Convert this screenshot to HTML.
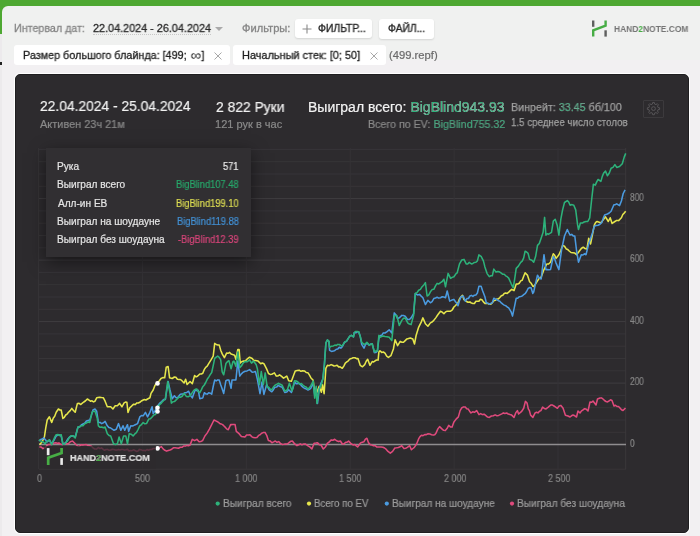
<!DOCTYPE html>
<html><head><meta charset="utf-8">
<style>
*{margin:0;padding:0;box-sizing:border-box}
html,body{width:700px;height:536px;overflow:hidden;background:#4ea832;font-family:"Liberation Sans",sans-serif}
#page{position:absolute;left:2px;top:6px;width:704px;height:540px;background:linear-gradient(#f0f1f0 0,#f0f1f0 54px,#f2f0f2 54px);border-radius:6px 6px 0 0}
#lstrip{position:absolute;left:0;top:34px;width:2px;height:502px;background:#eceaec}
.t{position:absolute;white-space:nowrap;line-height:normal;transform-origin:0 0;-webkit-font-smoothing:antialiased;will-change:transform}
.btn{position:absolute;background:#fff;border-radius:3px;box-shadow:0 1px 2px rgba(0,0,0,.12)}
.chip{position:absolute;background:#fff;border-radius:3px}
#panel{position:absolute;left:14.5px;top:74.3px;width:674px;height:459px;background:#2d2b2e;border:1px solid #1f1e20;border-radius:5px;box-shadow:0 0 0 1px #fff}
</style></head><body>
<div id="page"></div>
<div id="lstrip"></div>
<div style="position:absolute;left:0;top:62px;width:2px;height:3px;background:#222"></div>

<div style="position:absolute;left:93px;top:34px;width:118px;border-top:1px dotted #c8c8c8"></div>
<div style="position:absolute;left:215px;top:27px;width:0;height:0;border-left:4px solid transparent;border-right:4px solid transparent;border-top:4px solid #aaa"></div>
<div class="btn" style="left:295px;top:19px;width:77px;height:19px"></div>
<svg style="position:absolute;left:302px;top:24px" width="10" height="10"><path d="M5 0.5V9.5M0.5 5H9.5" stroke="#8a8a8a" stroke-width="1.1"/></svg>
<div class="btn" style="left:379px;top:19px;width:55px;height:20px"></div>

<div class="chip" style="left:14px;top:45px;width:216px;height:20px"></div>
<svg style="position:absolute;left:214px;top:52px" width="8" height="8"><path d="M0.5 0.5L7.5 7.5M7.5 0.5L0.5 7.5" stroke="#a8a8a8" stroke-width="1"/></svg>
<div class="chip" style="left:233px;top:45px;width:153px;height:20px"></div>
<svg style="position:absolute;left:369.5px;top:52px" width="8" height="8"><path d="M0.5 0.5L7.5 7.5M7.5 0.5L0.5 7.5" stroke="#a8a8a8" stroke-width="1"/></svg>

<svg style="position:absolute;left:0;top:0" width="700" height="80">
<rect x="592" y="20.5" width="2.4" height="6.3" fill="#5f5f5f"/>
<rect x="604.4" y="30.3" width="2.4" height="6.3" fill="#5f5f5f"/>
<path d="M593.2 36.6V30.3L605.6 25.7V20.5" stroke="#47ad45" stroke-width="2.4" fill="none" stroke-linejoin="miter"/>
</svg>

<div id="panel"></div>
<div style="position:absolute;left:643.3px;top:99.6px;width:20.3px;height:18.8px;border:1px solid #3c3a3d;border-radius:1px"></div>
<svg style="position:absolute;left:0;top:0" width="700" height="130"><path d="M658.09 107.57 L659.64 107.77 L659.64 109.43 L658.09 109.63 L657.47 111.12 L658.43 112.36 L657.26 113.53 L656.02 112.57 L654.53 113.19 L654.33 114.74 L652.67 114.74 L652.47 113.19 L650.98 112.57 L649.74 113.53 L648.57 112.36 L649.53 111.12 L648.91 109.63 L647.36 109.43 L647.36 107.77 L648.91 107.57 L649.53 106.08 L648.57 104.84 L649.74 103.67 L650.98 104.63 L652.47 104.01 L652.67 102.46 L654.33 102.46 L654.53 104.01 L656.02 104.63 L657.26 103.67 L658.43 104.84 L657.47 106.08Z" fill="none" stroke="#575558" stroke-width="1"/><circle cx="653.5" cy="108.6" r="1.9" fill="none" stroke="#575558" stroke-width="1"/></svg>

<svg style="position:absolute;left:0;top:0" width="700" height="536">
<line x1="39" y1="469.2" x2="626" y2="469.2" stroke="#373538" stroke-width="1"/>
<line x1="39" y1="432.3" x2="626" y2="432.3" stroke="#373538" stroke-width="1"/>
<line x1="39" y1="420.0" x2="626" y2="420.0" stroke="#373538" stroke-width="1"/>
<line x1="39" y1="407.7" x2="626" y2="407.7" stroke="#373538" stroke-width="1"/>
<line x1="39" y1="395.4" x2="626" y2="395.4" stroke="#373538" stroke-width="1"/>
<line x1="39" y1="383.1" x2="626" y2="383.1" stroke="#3f3d40" stroke-width="1"/>
<line x1="39" y1="370.8" x2="626" y2="370.8" stroke="#373538" stroke-width="1"/>
<line x1="39" y1="358.5" x2="626" y2="358.5" stroke="#373538" stroke-width="1"/>
<line x1="39" y1="346.2" x2="626" y2="346.2" stroke="#373538" stroke-width="1"/>
<line x1="39" y1="333.9" x2="626" y2="333.9" stroke="#373538" stroke-width="1"/>
<line x1="39" y1="321.6" x2="626" y2="321.6" stroke="#3f3d40" stroke-width="1"/>
<line x1="39" y1="309.3" x2="626" y2="309.3" stroke="#373538" stroke-width="1"/>
<line x1="39" y1="297.0" x2="626" y2="297.0" stroke="#373538" stroke-width="1"/>
<line x1="39" y1="284.7" x2="626" y2="284.7" stroke="#373538" stroke-width="1"/>
<line x1="39" y1="272.4" x2="626" y2="272.4" stroke="#373538" stroke-width="1"/>
<line x1="39" y1="260.1" x2="626" y2="260.1" stroke="#3f3d40" stroke-width="1"/>
<line x1="39" y1="247.8" x2="626" y2="247.8" stroke="#373538" stroke-width="1"/>
<line x1="39" y1="235.5" x2="626" y2="235.5" stroke="#373538" stroke-width="1"/>
<line x1="39" y1="223.2" x2="626" y2="223.2" stroke="#373538" stroke-width="1"/>
<line x1="39" y1="210.9" x2="626" y2="210.9" stroke="#373538" stroke-width="1"/>
<line x1="39" y1="198.6" x2="626" y2="198.6" stroke="#3f3d40" stroke-width="1"/>
<line x1="39" y1="186.3" x2="626" y2="186.3" stroke="#373538" stroke-width="1"/>
<line x1="39" y1="174.0" x2="626" y2="174.0" stroke="#373538" stroke-width="1"/>
<line x1="39" y1="161.7" x2="626" y2="161.7" stroke="#373538" stroke-width="1"/>
<line x1="39" y1="149.4" x2="626" y2="149.4" stroke="#373538" stroke-width="1"/>
<line x1="38.5" y1="148" x2="38.5" y2="469" stroke="#353336" stroke-width="1"/>
<line x1="142.4" y1="148" x2="142.4" y2="469" stroke="#353336" stroke-width="1"/>
<line x1="246.3" y1="148" x2="246.3" y2="469" stroke="#353336" stroke-width="1"/>
<line x1="350.2" y1="148" x2="350.2" y2="469" stroke="#353336" stroke-width="1"/>
<line x1="454.1" y1="148" x2="454.1" y2="469" stroke="#353336" stroke-width="1"/>
<line x1="558.0" y1="148" x2="558.0" y2="469" stroke="#353336" stroke-width="1"/>
<line x1="625.7" y1="148" x2="625.7" y2="469" stroke="#3a383b" stroke-width="1"/>
<line x1="39" y1="444.6" x2="626" y2="444.6" stroke="#8f8d8f" stroke-width="1.5"/>
<g fill="none" stroke-width="1.55" stroke-linejoin="round">
<polyline points="39.4,446.9 41.1,447.0 42.9,448.6 44.4,448.1 45.9,446.8 47.4,445.1 49.1,444.4 50.9,444.6 52.6,443.7 54.3,442.9 55.8,442.8 57.4,443.2 58.9,442.9 60.6,444.3 62.3,444.6 63.8,443.6 65.4,443.3 66.9,444.0 68.6,443.5 70.3,441.7 72.6,441.1 74.3,442.7 76.0,444.6 77.7,446.0 79.4,446.3 81.2,444.7 82.9,445.1 84.6,444.7 86.3,444.6 88.0,445.6 89.7,445.7 91.4,446.3 93.1,448.0 94.8,449.0 96.5,449.1 98.3,447.5 100.0,448.6 101.5,447.9 103.0,449.2 104.5,450.3 106.1,449.5 107.6,449.4 109.1,450.3 110.7,450.1 112.2,449.3 113.8,449.6 115.3,450.0 116.9,450.1 118.4,449.5 120.0,450.0 121.5,449.5 123.0,449.5 124.5,450.1 126.0,449.8 127.5,449.3 129.0,451.0 130.5,450.5 132.0,450.7 133.5,449.8 135.0,450.5 136.5,451.4 138.0,451.0 139.5,449.4 141.0,449.8 142.5,450.4 144.0,450.3 145.5,450.7 147.0,449.5 148.5,450.3 150.0,449.5 151.7,449.5 153.3,448.5 155.0,448.6 157.6,448.4 159.5,447.7 161.4,446.6 163.1,448.9 164.9,450.3 166.6,451.1 168.3,450.5 170.0,450.0 171.7,449.2 173.4,447.8 175.1,447.8 176.8,447.9 178.5,448.3 180.3,447.3 182.0,447.3 183.7,446.0 185.4,446.1 187.1,445.4 188.6,445.7 190.0,445.1 192.3,439.4 194.6,440.6 196.9,439.4 199.1,441.7 200.8,441.5 202.6,440.6 204.9,436.0 207.1,433.1 209.4,429.1 211.7,424.6 214.0,420.0 216.3,421.1 218.0,422.0 219.7,423.4 221.1,423.9 222.6,424.6 224.0,426.0 225.4,427.4 226.9,429.1 228.3,429.7 230.6,424.6 232.1,424.6 233.6,424.4 235.1,424.6 236.3,431.4 239.1,433.7 241.4,436.6 243.2,436.8 244.9,437.1 246.6,435.1 248.3,434.9 250.0,434.8 251.7,436.6 253.4,437.6 255.1,437.7 256.9,437.5 258.6,435.4 260.1,434.7 261.6,433.3 263.1,432.6 265.0,432.4 266.7,435.3 268.4,440.4 270.1,440.9 271.9,442.7 273.6,441.9 275.3,441.0 277.0,442.3 278.7,441.6 280.4,443.5 282.1,444.4 283.9,444.2 285.6,443.9 287.3,444.0 289.0,442.7 290.7,441.3 292.4,441.0 294.7,443.9 297.0,445.6 298.7,444.8 300.4,443.9 301.9,444.8 303.5,444.1 305.0,443.9 306.7,444.9 308.4,446.1 310.1,447.1 311.9,449.0 314.1,443.3 315.9,443.1 317.6,442.7 319.3,444.8 321.0,445.0 323.3,449.0 325.6,446.7 327.3,443.4 329.0,442.1 331.3,439.9 333.0,440.2 334.7,439.3 337.0,441.0 338.7,441.6 340.4,441.0 342.3,444.0 344.0,443.9 345.7,442.3 347.1,442.2 348.6,441.1 351.4,444.0 353.1,444.9 354.9,444.6 356.3,445.8 357.7,446.9 359.1,445.0 360.6,442.9 362.3,442.2 364.0,441.7 365.4,439.1 366.9,438.3 368.6,442.9 370.3,444.7 372.0,445.1 373.5,445.8 375.1,445.7 376.6,446.9 378.1,446.9 379.6,446.9 381.1,446.9 382.9,447.2 384.6,448.0 386.3,449.4 388.0,451.4 390.3,453.1 392.6,451.4 394.9,448.0 396.6,447.8 398.3,447.4 400.0,446.8 401.7,445.7 404.0,448.6 405.7,448.2 407.4,447.4 409.7,445.7 411.4,449.7 412.9,448.5 414.3,447.4 416.6,444.0 418.9,438.3 420.0,436.6 421.5,435.2 423.0,435.7 424.7,434.6 426.4,434.6 428.1,433.7 429.9,434.0 431.6,434.7 433.3,435.1 434.7,434.7 436.1,432.9 437.9,428.9 439.6,426.6 441.9,428.9 443.6,430.3 445.3,430.6 447.0,428.6 448.7,425.4 450.4,426.9 452.1,427.1 453.9,422.0 456.1,419.1 458.4,416.9 460.1,410.6 461.9,407.7 463.6,406.9 465.3,407.1 466.7,408.7 468.1,408.9 469.6,411.2 471.0,412.9 472.7,411.8 474.4,412.3 476.7,410.6 479.0,414.6 480.7,413.6 482.4,414.6 484.1,414.2 485.9,415.7 487.6,417.1 489.3,417.4 491.4,416.0 493.4,415.7 495.1,414.9 496.9,415.7 498.6,415.4 500.3,414.6 501.8,413.9 503.4,412.9 504.9,413.4 506.6,413.0 508.3,414.0 510.0,414.6 511.7,415.1 514.0,417.4 515.7,412.9 517.4,410.6 518.6,414.0 521.4,411.7 523.7,408.3 525.4,401.4 527.1,403.1 528.3,408.9 529.4,410.6 530.6,415.1 532.9,417.4 535.1,412.9 536.5,412.2 538.0,412.9 539.5,411.3 540.9,410.6 542.6,407.1 544.3,408.4 546.0,408.9 548.3,407.1 549.7,405.9 551.1,404.9 552.5,405.1 554.0,406.0 555.7,407.1 557.4,408.3 559.1,405.9 560.9,405.4 563.1,408.3 565.4,415.2 568.0,416.0 570.0,417.0 571.5,415.8 573.0,415.0 574.8,415.8 576.5,417.0 578.0,411.0 580.0,413.0 581.5,410.9 583.0,410.0 584.5,408.7 586.0,409.0 588.0,411.0 590.0,402.0 591.5,402.3 593.0,401.0 594.5,403.0 596.0,405.0 597.5,399.0 600.0,398.0 601.5,397.9 603.0,399.0 604.5,400.5 606.0,401.5 607.5,401.9 609.0,401.0 610.5,399.8 612.0,400.5 614.0,406.0 615.5,405.3 617.0,406.5 618.5,406.5 620.0,408.0 621.5,409.7 623.0,410.5 625.5,408.0" stroke="#df4a7c"/>
<polyline points="39.5,444.6 41.1,443.0 42.8,440.4 44.4,437.0 45.8,427.6 47.2,420.0 49.4,416.8 51.7,422.4 53.2,418.2 54.7,416.3 56.2,412.3 58.4,409.0 59.8,410.0 61.2,410.0 62.9,418.5 64.3,417.3 65.7,415.0 67.1,414.1 68.5,412.3 70.2,410.6 71.8,408.4 73.5,410.5 75.2,412.3 77.4,403.4 79.1,403.3 80.8,404.5 82.3,403.2 83.8,402.0 85.3,401.0 87.3,399.0 88.9,400.0 90.4,401.2 92.0,400.8 93.5,401.9 95.0,401.2 96.7,397.8 99.5,397.3 101.5,397.6 103.4,397.8 105.1,401.2 107.3,406.8 109.0,406.7 110.7,406.8 112.9,409.0 115.2,405.7 117.4,405.7 119.6,403.4 121.9,406.8 124.1,402.9 125.5,402.1 126.9,402.3 128.0,412.4 129.7,407.9 132.0,405.7 133.7,404.2 135.3,404.6 136.8,402.9 138.3,403.0 139.8,402.3 141.3,401.0 142.8,400.2 144.3,399.5 145.9,400.0 147.6,399.0 149.9,397.8 151.0,393.4 153.2,390.0 155.0,385.2 156.5,383.8 158.0,382.2 159.5,380.5 161.0,378.5 162.8,377.6 164.7,377.8 166.2,367.3 168.1,366.6 169.6,377.8 172.2,378.5 174.4,377.0 175.9,377.2 177.4,379.3 178.9,379.4 180.4,379.5 181.9,380.7 184.1,383.0 185.6,379.3 187.1,384.5 188.6,383.0 190.1,381.5 192.3,383.7 194.6,375.5 196.1,376.9 197.5,376.3 199.8,374.0 201.3,374.0 202.8,373.3 204.2,369.7 205.7,367.3 207.2,366.2 208.7,363.6 211.0,359.9 213.2,356.1 214.7,343.4 216.2,344.5 217.7,344.9 219.2,344.9 220.7,350.2 222.2,353.9 224.4,357.6 226.6,353.1 228.1,353.3 229.6,352.4 231.1,354.1 232.6,354.6 234.6,355.2 235.9,359.2 237.8,349.4 239.1,349.4 240.2,363.1 241.6,361.8 243.1,361.1 245.1,361.1 247.0,359.2 249.6,357.2 252.2,358.5 253.8,360.4 255.5,360.5 258.1,361.1 260.7,363.7 262.3,363.0 263.9,363.7 266.6,368.9 268.5,373.5 270.1,374.4 271.8,374.2 274.4,372.9 276.3,376.1 278.0,375.9 279.6,374.8 281.6,376.4 283.5,378.1 285.1,377.2 286.8,376.1 288.7,380.7 291.4,381.3 294.0,374.2 295.3,370.9 297.2,370.5 299.2,370.2 300.9,371.3 302.7,370.7 304.4,370.9 306.2,372.5 308.0,372.8 309.5,375.1 311.0,378.0 313.2,380.2 314.0,387.7 315.4,390.7 316.9,392.2 319.2,386.2 321.4,392.2 322.6,384.7 324.1,393.7 325.9,368.3 327.4,365.3 329.2,365.7 331.1,364.6 332.6,365.2 334.1,366.0 335.6,365.8 337.1,365.3 338.6,366.9 340.1,366.8 342.3,368.3 343.8,366.1 345.3,363.1 346.8,361.9 348.3,360.8 349.8,359.1 351.3,358.6 353.1,357.8 355.0,357.8 356.5,358.6 358.0,358.6 360.2,365.3 362.5,366.8 364.7,364.6 366.2,361.3 367.7,359.3 369.9,365.3 372.2,361.6 373.6,362.0 375.1,360.8 376.6,360.0 378.1,360.1 378.9,351.9 380.0,350.7 381.7,352.4 383.3,352.0 385.0,353.2 386.7,356.2 388.4,357.4 390.9,355.7 393.4,349.0 395.1,339.7 397.6,345.6 400.2,341.4 401.9,342.3 403.5,342.3 405.2,340.6 406.9,338.9 408.6,338.5 410.3,338.1 412.8,338.9 414.5,344.0 416.1,335.5 418.7,327.1 421.2,322.1 422.9,317.9 425.4,323.8 427.9,326.3 430.4,322.9 432.1,322.0 433.8,320.4 435.9,317.6 438.0,314.5 440.5,311.2 442.2,312.1 443.9,313.7 445.5,311.9 447.2,311.2 448.9,311.2 450.6,311.2 452.2,310.0 453.9,307.0 455.6,305.5 457.3,303.6 458.0,302.7 459.5,298.9 461.0,296.7 462.5,295.2 464.0,299.7 466.2,301.2 468.0,302.2 469.9,301.9 471.4,303.1 472.9,303.4 474.4,303.5 475.9,301.3 477.4,301.2 478.9,301.2 480.4,299.3 481.9,299.7 483.4,301.9 484.9,303.4 486.4,303.2 487.8,303.4 489.3,304.2 490.8,304.2 492.3,302.7 493.8,300.7 495.3,300.3 496.8,299.0 498.3,299.0 499.8,297.5 501.3,295.8 502.8,295.2 504.2,293.5 505.7,293.0 507.2,293.4 508.7,292.2 510.2,290.6 511.7,289.3 514.0,290.7 516.2,284.0 517.7,284.1 519.2,283.3 520.7,280.9 522.2,280.3 523.7,276.3 525.1,272.8 527.4,275.1 529.6,281.8 531.2,283.3 532.8,286.2 533.7,286.4 535.6,283.9 537.5,280.8 539.4,278.1 541.2,277.1 544.0,269.6 546.8,264.0 548.6,264.0 550.5,262.2 553.3,253.8 554.7,255.2 556.1,258.4 558.9,254.7 560.8,250.5 562.6,245.4 564.5,246.3 566.4,249.1 567.8,249.6 569.2,251.0 571.0,252.5 572.9,252.8 574.8,253.1 576.6,254.7 579.4,251.0 581.3,248.5 583.2,247.2 585.0,248.5 586.9,249.1 588.7,238.3 590.6,243.9 592.5,234.3 594.3,225.2 595.7,222.4 597.1,221.5 599.9,222.4 601.3,222.5 602.7,220.6 605.5,216.8 608.3,221.5 610.2,217.8 612.1,223.4 614.9,221.5 616.8,220.4 618.6,220.6 621.4,217.8 622.8,214.5 624.2,213.1 625.7,211.2" stroke="#e6e64c"/>
<polyline points="39.0,441.0 40.6,439.5 42.2,439.1 43.8,438.0 45.4,439.7 47.0,442.0 49.4,440.0 51.7,444.0 53.2,441.5 54.7,438.9 56.2,436.0 57.9,435.1 59.5,435.0 61.2,436.0 62.9,444.0 64.5,443.7 66.2,442.0 67.9,439.0 69.6,437.0 71.3,436.0 73.0,436.0 75.2,437.0 78.0,427.0 79.7,427.0 81.3,424.9 83.0,424.0 84.7,423.2 86.4,421.0 88.1,420.5 89.8,420.0 91.4,415.3 93.0,410.0 95.0,409.0 96.7,411.3 98.4,422.5 100.1,422.4 101.7,423.6 103.4,422.8 105.1,421.4 107.3,425.8 109.0,427.6 110.7,428.0 112.3,429.2 114.0,430.3 116.3,429.2 118.5,423.6 120.8,430.3 123.0,425.8 124.7,430.3 127.5,424.7 128.6,431.4 130.8,425.8 132.3,425.9 133.8,425.4 135.3,424.7 137.6,423.6 139.8,416.9 141.5,415.5 143.2,415.8 145.4,412.4 147.6,416.9 149.9,412.4 152.1,406.8 153.2,413.5 154.8,411.3 156.4,408.3 158.0,405.4 159.8,403.1 161.7,401.6 163.6,399.6 165.4,399.4 168.1,381.5 169.9,389.7 172.2,398.7 174.4,395.7 175.9,397.5 177.4,397.9 178.9,396.0 180.4,394.2 181.9,394.1 183.4,394.0 184.9,392.7 186.8,392.4 188.6,391.2 190.4,395.4 192.3,397.9 193.8,393.6 195.3,389.7 196.8,390.7 198.3,390.4 199.8,398.7 201.3,398.2 202.8,397.9 204.3,392.7 205.8,393.9 207.3,394.1 208.7,392.8 210.2,393.2 211.7,394.2 213.2,386.5 214.7,380.0 216.2,380.9 217.7,379.9 219.2,380.0 220.7,384.8 222.2,389.0 223.7,393.4 225.9,380.7 227.4,380.0 228.9,380.0 231.1,388.2 232.0,380.0 233.9,380.0 235.9,380.0 237.8,361.1 239.8,376.1 241.4,373.9 243.1,372.2 245.1,371.3 247.0,370.9 249.6,369.6 252.2,372.2 253.8,372.1 255.5,371.6 257.4,379.4 260.0,393.7 262.0,382.0 263.9,394.4 266.6,384.6 269.2,389.8 271.8,391.8 273.4,389.7 275.0,387.2 276.6,387.1 278.3,385.3 280.2,386.6 282.2,387.2 284.8,392.4 286.8,392.0 288.7,389.8 291.4,392.4 293.0,387.9 294.6,382.0 296.1,383.6 297.6,383.6 299.0,383.3 300.5,384.6 302.0,386.4 303.5,387.7 305.0,388.6 306.5,389.1 308.0,390.0 309.5,389.4 311.0,388.0 313.2,383.0 314.7,395.0 316.2,388.0 317.5,403.4 319.2,389.0 321.0,383.3 322.9,378.7 324.4,363.8 325.9,343.0 327.4,340.0 328.9,341.4 329.6,350.4 331.5,351.4 333.4,351.1 334.9,350.5 336.3,349.2 337.8,348.9 339.3,347.3 340.8,348.1 342.3,346.6 344.6,342.2 346.5,341.3 348.3,338.4 349.8,336.1 351.3,335.4 353.5,336.9 354.3,332.5 355.8,332.8 357.2,331.8 358.7,331.7 360.2,336.2 361.7,344.4 364.0,348.1 365.4,344.8 366.9,342.9 369.2,345.1 370.7,344.0 372.2,343.7 374.4,352.6 375.9,352.4 377.4,351.1 378.9,338.4 380.0,335.5 381.7,335.4 383.3,332.9 385.0,333.0 387.1,331.6 389.2,329.7 391.8,333.0 394.3,312.9 396.0,314.9 397.6,318.7 399.7,317.5 401.8,315.4 403.5,315.5 405.2,316.2 407.7,319.6 409.4,319.5 411.1,317.9 413.6,313.7 415.3,293.5 417.4,294.9 419.5,294.4 421.2,296.1 422.9,297.7 425.4,304.5 427.9,300.3 430.4,302.8 432.1,301.7 433.8,298.6 435.5,298.0 437.1,297.3 438.8,298.1 440.5,297.7 442.2,296.8 443.8,297.1 445.5,297.7 447.2,291.0 449.7,301.1 451.8,300.1 453.9,299.4 455.5,301.8 457.2,303.8 458.0,305.7 459.5,300.5 461.0,296.7 463.2,296.0 465.4,301.2 466.9,298.6 468.4,298.5 469.9,296.0 471.4,295.4 472.9,296.4 474.4,295.2 475.9,294.9 477.4,293.0 478.9,286.3 481.1,286.3 482.6,290.7 484.9,296.7 486.3,302.7 487.8,303.2 489.3,304.2 490.8,303.4 492.3,302.7 493.8,298.2 495.3,299.0 496.8,299.7 498.3,300.7 499.8,301.2 501.3,302.9 502.8,304.2 504.2,305.1 505.7,305.7 507.2,307.0 508.7,307.9 511.0,311.6 512.5,316.1 514.7,305.7 516.2,298.2 517.7,298.3 519.2,296.7 520.7,296.4 522.2,296.0 523.7,294.7 525.1,293.7 526.6,291.5 528.1,288.5 529.6,287.6 531.1,287.8 532.8,293.4 533.7,292.0 535.6,283.2 537.5,275.2 539.4,278.1 541.2,279.0 544.0,254.7 545.9,269.6 547.4,269.6 549.0,269.7 550.5,269.6 553.3,256.6 554.7,258.9 556.1,263.1 558.9,269.6 560.3,259.2 561.7,249.1 564.5,236.0 567.3,229.5 568.7,232.5 570.1,235.1 571.7,234.4 573.2,235.9 574.8,236.0 576.6,251.0 578.5,262.2 581.3,254.7 582.9,255.0 584.4,253.8 586.0,254.7 588.7,243.9 590.6,238.6 592.5,232.7 594.3,226.2 596.2,225.6 598.1,225.2 600.0,224.2 601.8,222.4 603.2,218.4 604.6,215.0 607.4,214.0 609.2,213.0 611.1,211.2 613.9,204.7 615.3,204.7 616.7,203.8 619.5,205.6 621.4,201.0 623.2,193.5 625.1,189.8" stroke="#4b9be0"/>
<polyline points="39.0,440.0 41.6,441.4 43.3,442.0 45.0,443.7 46.5,441.6 47.9,440.9 49.4,439.8 51.7,444.8 53.2,440.7 54.7,437.2 56.2,434.7 57.9,434.5 59.5,435.5 61.2,434.7 62.9,444.2 64.5,444.0 66.2,442.5 67.9,440.3 69.6,437.0 71.3,435.8 73.0,435.8 75.2,438.0 78.0,426.9 79.7,426.6 81.3,425.7 83.0,425.8 84.7,423.7 86.4,423.0 88.1,421.9 89.8,422.4 92.0,412.3 93.5,411.2 95.0,411.3 97.2,418.0 98.4,425.8 100.1,427.3 101.7,427.0 103.4,427.7 105.1,427.0 107.3,433.7 109.0,435.4 110.7,435.9 113.5,443.8 115.5,444.4 117.4,443.8 119.1,437.0 121.3,443.8 123.6,435.9 125.8,435.9 127.5,443.8 129.2,433.7 131.1,434.2 133.1,435.9 134.8,433.9 136.4,432.6 138.1,429.5 139.8,425.8 141.5,424.6 143.2,422.5 144.8,423.8 146.5,423.6 148.8,419.1 150.4,418.8 152.1,416.9 153.8,414.9 155.5,414.6 158.0,406.1 159.5,404.8 161.0,403.4 162.5,401.6 163.9,400.2 165.4,398.7 167.7,381.5 169.9,392.7 171.4,403.1 172.9,401.7 174.4,401.6 175.9,400.1 177.4,398.7 178.9,397.1 180.4,397.2 182.2,396.2 184.1,393.4 186.3,396.4 188.2,396.8 190.1,395.7 191.9,393.1 193.8,390.4 195.3,389.3 196.8,389.0 198.3,391.7 199.8,392.7 201.3,389.8 202.8,386.7 204.3,385.0 205.7,382.5 207.2,379.3 208.7,377.1 210.2,374.6 211.7,372.5 213.2,365.6 214.7,358.4 216.2,357.1 217.7,356.1 219.2,357.3 220.7,359.9 222.2,371.8 223.7,374.8 225.9,363.6 227.4,361.7 228.9,360.6 231.1,368.8 232.9,361.7 233.9,361.1 235.9,366.3 237.8,352.0 239.8,367.6 241.4,366.0 243.1,363.1 245.1,361.5 247.0,361.8 249.6,359.8 251.5,363.1 253.5,361.1 256.1,364.4 257.4,368.9 259.4,384.6 261.3,371.6 263.3,384.6 265.2,372.9 267.2,387.2 268.7,387.2 270.3,389.2 271.8,389.8 273.4,387.1 275.0,385.3 276.6,384.4 278.3,383.3 280.2,384.2 282.2,385.3 284.8,391.1 287.4,389.8 289.4,383.3 292.0,391.1 294.6,380.7 296.2,381.0 297.9,382.0 299.6,384.1 301.4,383.6 303.1,385.3 304.7,386.4 306.4,387.3 308.0,389.2 309.5,387.6 311.0,385.4 313.2,381.0 314.7,398.1 316.2,386.2 316.9,403.4 319.2,389.2 321.4,384.7 322.9,378.7 324.4,365.3 325.9,342.9 327.4,339.9 328.9,341.4 329.6,347.4 331.5,346.2 333.4,345.9 334.9,345.1 336.3,345.4 337.8,344.4 339.3,344.5 340.8,345.5 342.3,345.9 344.6,342.2 346.5,341.1 348.3,338.4 349.8,336.1 351.3,335.4 353.5,336.9 354.3,332.5 355.8,331.4 357.2,331.4 358.7,331.7 360.2,336.2 361.7,342.2 364.0,344.4 365.4,343.8 366.9,342.2 369.2,345.1 370.7,344.6 372.2,343.7 374.4,351.9 375.9,351.0 377.4,351.1 378.9,335.4 380.0,337.2 381.7,336.6 383.3,336.0 385.0,336.4 387.1,336.7 389.2,337.2 391.8,340.6 394.3,315.4 396.8,315.4 399.3,325.5 401.8,320.4 403.5,318.2 405.2,317.9 407.7,322.9 409.4,324.1 411.1,324.6 413.6,315.4 415.3,293.5 417.0,292.6 418.7,290.2 420.4,289.4 422.0,286.8 423.7,285.2 425.4,282.6 427.1,296.0 428.8,294.8 430.4,291.8 432.1,289.6 433.8,289.3 435.5,285.9 437.1,283.4 438.8,283.9 440.5,282.6 442.2,281.5 443.9,279.2 445.5,286.8 448.1,273.4 450.6,278.4 452.2,277.4 453.9,276.7 456.1,273.6 457.2,272.8 459.5,263.9 461.7,260.1 464.0,259.4 466.2,263.9 467.7,264.0 469.2,262.4 471.4,263.9 472.9,263.4 474.4,262.4 475.9,262.3 477.4,260.9 478.9,254.9 481.1,256.4 483.4,260.9 484.9,266.9 487.1,273.6 489.3,276.6 490.8,275.8 492.3,275.8 493.8,269.1 496.0,272.1 497.9,271.5 499.8,272.1 501.3,273.1 502.8,274.3 504.2,274.3 505.7,275.8 507.2,276.7 508.7,278.1 511.0,283.3 513.2,287.8 514.7,278.8 516.2,268.4 518.4,266.1 520.7,262.4 522.2,261.1 523.7,257.9 525.1,251.2 526.6,252.0 528.1,253.4 529.6,259.4 531.9,260.3 533.7,262.2 535.6,256.6 537.5,245.4 539.3,243.5 541.2,237.9 543.1,232.3 544.6,217.4 545.9,235.1 547.3,233.7 548.7,234.2 551.5,232.3 553.3,221.1 555.2,219.3 557.1,224.9 558.9,235.1 560.8,219.3 562.6,209.9 564.5,202.5 567.3,200.6 568.7,202.0 570.1,205.3 572.0,204.6 573.8,205.3 575.7,209.9 577.6,224.9 578.5,229.5 580.4,223.0 582.2,223.1 584.1,222.0 586.0,221.5 587.8,221.5 589.7,217.8 591.5,201.0 593.4,184.2 595.3,185.1 596.7,181.9 598.1,179.5 600.9,181.4 602.3,176.4 603.7,173.0 605.5,171.1 607.4,175.8 609.3,173.0 611.1,168.3 613.0,167.4 614.9,164.6 616.7,167.4 619.5,166.5 622.3,163.7 624.2,157.1 625.7,153.4" stroke="#2db27a"/>
</g>
<g fill="#fff"><circle cx="157.5" cy="383.4" r="2.3"/><circle cx="157.5" cy="407.7" r="2.3"/><circle cx="157.5" cy="411.5" r="2.3"/><circle cx="157.5" cy="448.4" r="2.3"/></g>
<circle cx="217.7" cy="503.6" r="2.1" fill="#2db27a"/><circle cx="309" cy="503.6" r="2.1" fill="#e6e64c"/><circle cx="386.8" cy="503.6" r="2.1" fill="#4b9be0"/><circle cx="512" cy="503.6" r="2.1" fill="#df4a7c"/>
</svg>

<div style="position:absolute;left:44px;top:446px;width:112px;height:23px;background:rgba(45,43,46,.75)"></div>
<svg style="position:absolute;left:0;top:440px" width="80" height="30">
<rect x="46.8" y="8.1" width="2.7" height="7.1" fill="#ececec"/>
<rect x="60.3" y="18.1" width="2.6" height="6.8" fill="#ececec"/>
<path d="M48.2 24.9V17.6L61.6 13V8.1" stroke="#47ad45" stroke-width="2.7" fill="none"/>
</svg>

<div style="position:absolute;left:46px;top:148px;width:205px;height:109px;background:#312f32;box-shadow:0 5px 16px rgba(0,0,0,.5)"></div>
<div class="t" style="left:14.13px;top:21.60px;font-size:11px;color:#858585;font-weight:normal;transform:scaleX(0.9746);-webkit-text-stroke:0.3px #858585;">Интервал дат:</div>
<div class="t" style="left:92.60px;top:21.60px;font-size:11px;color:#2a2a2a;font-weight:normal;transform:scaleX(0.9842);-webkit-text-stroke:0.3px #2a2a2a;">22.04.2024 - 26.04.2024</div>
<div class="t" style="left:241.50px;top:21.70px;font-size:11px;color:#858585;font-weight:normal;transform:scaleX(1.0106);-webkit-text-stroke:0.3px #858585;">Фильтры:</div>
<div class="t" style="left:318.40px;top:22.00px;font-size:10.5px;color:#222;font-weight:normal;transform:scaleX(0.9875);-webkit-text-stroke:0.3px #222;">ФИЛЬТР...</div>
<div class="t" style="left:387.70px;top:22.20px;font-size:10.5px;color:#222;font-weight:normal;transform:scaleX(0.9811);-webkit-text-stroke:0.3px #222;">ФАЙЛ...</div>
<div class="t" style="left:23.32px;top:48.60px;font-size:11px;color:#1e1e1e;font-weight:normal;transform:scaleX(0.9814);-webkit-text-stroke:0.3px #1e1e1e;">Размер большого блайнда: [499; <span style="display:inline-block;transform:scale(1.4,1.25);margin:0 2px;-webkit-text-stroke:0;font-weight:normal">∞</span>]</div>
<div class="t" style="left:241.61px;top:48.60px;font-size:11px;color:#1e1e1e;font-weight:normal;transform:scaleX(0.9924);-webkit-text-stroke:0.3px #1e1e1e;">Начальный стек: [0; 50]</div>
<div class="t" style="left:389.20px;top:48.60px;font-size:11px;color:#6a6a6a;font-weight:normal;transform:scaleX(1.0213);-webkit-text-stroke:0.2px #6a6a6a;">(499.repf)</div>
<div class="t" style="left:613.80px;top:24.20px;font-size:9.2px;color:#757575;font-weight:bold;transform:scaleX(0.9160);">HAND<span style="color:#47ad45">2</span>NOTE.COM</div>
<div class="t" style="left:39.70px;top:98.40px;font-size:14px;color:#f2f2f2;font-weight:normal;transform:scaleX(0.9869);-webkit-text-stroke:0.2px #f2f2f2;">22.04.2024 - 25.04.2024</div>
<div class="t" style="left:39.50px;top:117.60px;font-size:11px;color:#8a8a8a;font-weight:normal;transform:scaleX(0.9941);-webkit-text-stroke:0.2px #8a8a8a;">Активен 23ч 21м</div>
<div class="t" style="left:215.70px;top:98.70px;font-size:14px;color:#f2f2f2;font-weight:normal;transform:scaleX(0.9884);-webkit-text-stroke:0.2px #f2f2f2;">2 822 Руки</div>
<div class="t" style="left:214.70px;top:117.60px;font-size:11px;color:#8a8a8a;font-weight:normal;transform:scaleX(1.0030);-webkit-text-stroke:0.2px #8a8a8a;">121 рук в час</div>
<div class="t" style="left:308.40px;top:99.00px;font-size:14px;color:#f2f2f2;font-weight:normal;-webkit-text-stroke:0.2px #f2f2f2;">Выиграл всего: <span style="color:#2eb37c">BigBlind943.93</span></div>
<div class="t" style="left:367.53px;top:117.70px;font-size:11px;color:#8a8a8a;font-weight:normal;transform:scaleX(0.9707);-webkit-text-stroke:0.2px #8a8a8a;">Всего по EV: <span style="color:#2eb37c">BigBlind755.32</span></div>
<div class="t" style="left:510.88px;top:99.60px;font-size:11.6px;color:#a0a0a0;font-weight:normal;transform:scaleX(0.9235);-webkit-text-stroke:0.25px #a0a0a0;">Винрейт: <span style="color:#2eb37c">33.45</span> бб/100</div>
<div class="t" style="left:510.80px;top:115.00px;font-size:11.8px;color:#a0a0a0;font-weight:normal;transform:scaleX(0.827);-webkit-text-stroke:0.25px #a0a0a0;"><span style="display:inline-block;width:143px;overflow:hidden;vertical-align:top">1.5 среднее число столов за сессию</span></div>
<div class="t" style="left:56.90px;top:160.90px;font-size:10.1px;color:#e4e4e4;font-weight:normal;-webkit-text-stroke:0.2px #e4e4e4;">Рука</div>
<div class="t" style="left:223.12px;top:160.90px;font-size:10px;color:#e8e8e8;font-weight:normal;transform:scaleX(0.9300);-webkit-text-stroke:0.2px #e8e8e8;">571</div>
<div class="t" style="left:56.90px;top:179.20px;font-size:10.1px;color:#e4e4e4;font-weight:normal;-webkit-text-stroke:0.2px #e4e4e4;">Выиграл всего</div>
<div class="t" style="left:175.69px;top:179.20px;font-size:10px;color:#27a86b;font-weight:normal;transform:scaleX(0.9300);-webkit-text-stroke:0.2px #27a86b;">BigBlind107.48</div>
<div class="t" style="left:57.90px;top:197.50px;font-size:10.1px;color:#e4e4e4;font-weight:normal;-webkit-text-stroke:0.2px #e4e4e4;">Алл-ин EB</div>
<div class="t" style="left:175.69px;top:197.50px;font-size:10px;color:#dcdc52;font-weight:normal;transform:scaleX(0.9300);-webkit-text-stroke:0.2px #dcdc52;">BigBlind199.10</div>
<div class="t" style="left:56.90px;top:215.80px;font-size:10.1px;color:#e4e4e4;font-weight:normal;-webkit-text-stroke:0.2px #e4e4e4;">Выиграл на шоудауне</div>
<div class="t" style="left:176.62px;top:215.80px;font-size:10px;color:#4291d6;font-weight:normal;transform:scaleX(0.9300);-webkit-text-stroke:0.2px #4291d6;">BigBlind119.88</div>
<div class="t" style="left:56.90px;top:234.10px;font-size:10.1px;color:#e4e4e4;font-weight:normal;-webkit-text-stroke:0.2px #e4e4e4;">Выиграл без шоудауна</div>
<div class="t" style="left:177.55px;top:234.10px;font-size:10px;color:#d8457a;font-weight:normal;transform:scaleX(0.9300);-webkit-text-stroke:0.2px #d8457a;">-BigBlind12.39</div>
<div class="t" style="left:629.90px;top:190.70px;font-size:10.6px;color:#868686;font-weight:normal;transform:scaleX(0.7833);-webkit-text-stroke:0.2px #868686;">800</div>
<div class="t" style="left:629.90px;top:252.30px;font-size:10.6px;color:#868686;font-weight:normal;transform:scaleX(0.7833);-webkit-text-stroke:0.2px #868686;">600</div>
<div class="t" style="left:629.90px;top:313.80px;font-size:10.6px;color:#868686;font-weight:normal;transform:scaleX(0.7833);-webkit-text-stroke:0.2px #868686;">400</div>
<div class="t" style="left:629.90px;top:375.30px;font-size:10.6px;color:#868686;font-weight:normal;transform:scaleX(0.7833);-webkit-text-stroke:0.2px #868686;">200</div>
<div class="t" style="left:629.90px;top:436.80px;font-size:10.6px;color:#868686;font-weight:normal;transform:scaleX(0.7833);-webkit-text-stroke:0.2px #868686;">0</div>
<div class="t" style="left:36.55px;top:471.80px;font-size:10.6px;color:#868686;font-weight:normal;transform:scaleX(0.8500);-webkit-text-stroke:0.2px #868686;">0</div>
<div class="t" style="left:135.35px;top:471.80px;font-size:10.6px;color:#868686;font-weight:normal;transform:scaleX(0.8500);-webkit-text-stroke:0.2px #868686;">500</div>
<div class="t" style="left:235.43px;top:471.80px;font-size:10.6px;color:#868686;font-weight:normal;transform:scaleX(0.8500);-webkit-text-stroke:0.2px #868686;">1 000</div>
<div class="t" style="left:339.32px;top:471.80px;font-size:10.6px;color:#868686;font-weight:normal;transform:scaleX(0.8500);-webkit-text-stroke:0.2px #868686;">1 500</div>
<div class="t" style="left:443.65px;top:471.80px;font-size:10.6px;color:#868686;font-weight:normal;transform:scaleX(0.8500);-webkit-text-stroke:0.2px #868686;">2 000</div>
<div class="t" style="left:547.55px;top:471.80px;font-size:10.6px;color:#868686;font-weight:normal;transform:scaleX(0.8500);-webkit-text-stroke:0.2px #868686;">2 500</div>
<div class="t" style="left:223.13px;top:496.90px;font-size:10.5px;color:#9c9c9c;font-weight:normal;transform:scaleX(0.9657);-webkit-text-stroke:0.2px #9c9c9c;">Выиграл всего</div>
<div class="t" style="left:314.48px;top:496.90px;font-size:10.5px;color:#9c9c9c;font-weight:normal;transform:scaleX(0.9224);-webkit-text-stroke:0.2px #9c9c9c;">Всего по EV</div>
<div class="t" style="left:392.04px;top:496.90px;font-size:10.5px;color:#9c9c9c;font-weight:normal;transform:scaleX(0.9575);-webkit-text-stroke:0.2px #9c9c9c;">Выиграл на шоудауне</div>
<div class="t" style="left:517.34px;top:496.90px;font-size:10.5px;color:#9c9c9c;font-weight:normal;transform:scaleX(0.9640);-webkit-text-stroke:0.2px #9c9c9c;">Выиграл без шоудауна</div>
<div class="t" style="left:70.40px;top:451.80px;font-size:9.4px;color:#e0e0e0;font-weight:bold;transform:scaleX(0.9639);-webkit-text-stroke:0.2px #e0e0e0;">HAND<span style="color:#47ad45">2</span>NOTE.COM</div>
</body></html>
